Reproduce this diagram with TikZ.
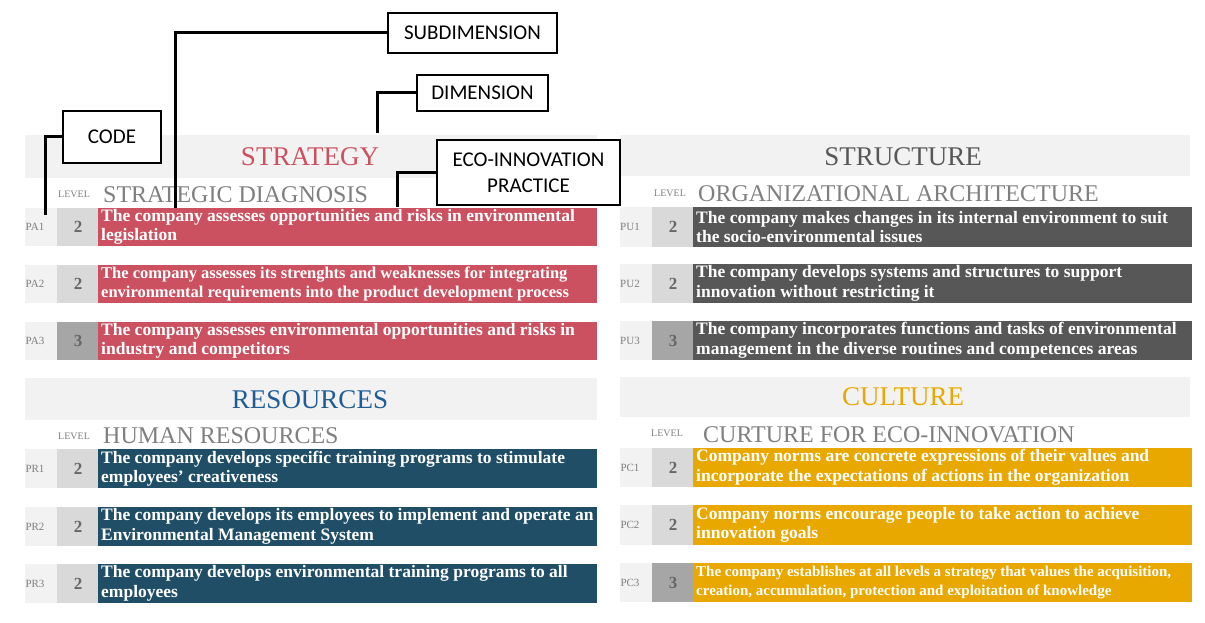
\documentclass[tikz,border=0pt]{standalone}
\usepackage{fontspec}
\setmainfont{Liberation Serif}
\newfontfamily\callf{Carlito}
\definecolor{bandg}{HTML}{F2F2F2}
\definecolor{lvl}{HTML}{D9D9D9}
\definecolor{lvlb}{HTML}{A6A6A6}
\definecolor{cred}{HTML}{CB5160}
\definecolor{cgray}{HTML}{575757}
\definecolor{cblue}{HTML}{1F4E66}
\definecolor{cyel}{HTML}{E9A800}
\definecolor{tblue}{HTML}{1F5C96}
\definecolor{tgray}{HTML}{7F7F7F}
\newcommand\fsa{\fontsize{16.5}{19}\selectfont}
\newcommand\fsb{\fontsize{15}{19}\selectfont}
\begin{document}
\begin{tikzpicture}[x=1pt,y=-1pt,
  band/.style={fill=bandg,draw=none},
  title/.style={font=\fontsize{27}{29}\selectfont},
  sub/.style={font=\fontsize{24}{26}\selectfont,text=tgray,anchor=west,inner sep=0},
  lv/.style={font=\fontsize{10}{11}\selectfont,text=tgray,anchor=west,inner sep=0},
  code/.style={font=\fontsize{11}{12}\selectfont,text=tgray},
  num/.style={font=\bfseries\fontsize{17}{18}\selectfont,text=gray!80!black},
  txt/.style={font=\bfseries\fontsize{17.5}{19.5}\selectfont,text=white,align=left,anchor=west,inner sep=0},
  call/.style={draw=black,line width=2.6pt,fill=white,font=\callf\fontsize{21}{26}\selectfont,align=center,inner sep=0},
  lead/.style={line width=3pt}]
\useasboundingbox (0,0) rectangle (1205,623);
\newcommand\prow[9]{%
  \fill[bandg] (#1,#2) rectangle ++(33,#3);
  \fill[#6] (#1+32,#2) rectangle ++(41,#3);
  \node[code] (#9c) at (#1+10,#2+#3/2) {#4};
  \node[num] (#9l) at (#1+53,#2+#3/2) {#5};
  \fill[#7] (#1+73,#2) rectangle ++(499,#3);
  \node[txt] (#9t) at (#1+76,#2+#3/2) {#8};}
% STRATEGY
\fill[band] (25,135) rectangle (597,178);
\node[title,text=cred] (ts) at (310,157) {STRATEGY};
\node[lv] (lv1) at (58,194) {LEVEL};
\node[sub] (s1) at (103,195) {STRATEGIC DIAGNOSIS};
\prow{25}{208}{38}{PA1}{2}{lvl}{cred}{The company assesses opportunities and risks in environmental\\legislation}{a1}
\prow{25}{265}{38}{PA2}{2}{lvl}{cred}{\fsa The company assesses its strenghts and weaknesses for integrating\\\fsa environmental requirements into the product development process}{a2}
\prow{25}{322}{38}{PA3}{3}{lvlb}{cred}{The company assesses environmental opportunities and risks in\\industry and competitors}{a3}
% STRUCTURE
\fill[band] (620,135) rectangle (1190,176);
\node[title,text=cgray] (tu) at (903,157) {STRUCTURE};
\node[lv] (lv2) at (654,193) {LEVEL};
\node[sub] (s2) at (698,194) {ORGANIZATIONAL ARCHITECTURE};
\prow{620}{207}{40}{PU1}{2}{lvl}{cgray}{The company makes changes in its internal environment to suit\\the socio-environmental issues}{u1}
\prow{620}{264}{39}{PU2}{2}{lvl}{cgray}{The company develops systems and structures to support\\innovation without restricting it}{u2}
\prow{620}{321}{39}{PU3}{3}{lvlb}{cgray}{The company incorporates functions and tasks of environmental\\management in the diverse routines and competences areas}{u3}
% RESOURCES
\fill[band] (25,378) rectangle (597,420);
\node[title,text=tblue] (tr) at (310,400) {RESOURCES};
\node[lv] (lv3) at (58,436) {LEVEL};
\node[sub] (s3) at (103,436) {HUMAN RESOURCES};
\prow{25}{449}{39}{PR1}{2}{lvl}{cblue}{The company develops specific training programs to stimulate\\employees’ creativeness}{r1}
\prow{25}{507}{39}{PR2}{2}{lvl}{cblue}{The company develops its employees to implement and operate an\\Environmental Management System}{r2}
\prow{25}{564}{39}{PR3}{2}{lvl}{cblue}{The company develops environmental training programs to all\\employees}{r3}
% CULTURE
\fill[band] (620,377) rectangle (1190,417);
\node[title,text=cyel] (tc) at (903,397) {CULTURE};
\node[lv] (lv4) at (651,433) {LEVEL};
\node[sub] (s4) at (703,435) {CURTURE FOR ECO-INNOVATION};
\prow{620}{448}{39}{PC1}{2}{lvl}{cyel}{Company norms are concrete expressions of their values and\\incorporate the expectations of actions in the organization}{c1}
\prow{620}{505}{40}{PC2}{2}{lvl}{cyel}{Company norms encourage people to take action to achieve\\innovation goals}{c2}
\prow{620}{563}{39}{PC3}{3}{lvlb}{cyel}{\fsb The company establishes at all levels a strategy that values the acquisition,\\\fsb creation, accumulation, protection and exploitation of knowledge}{c3}
% callouts
\node[call,minimum width=98pt,minimum height=52pt] (kcode) at (112,137) {CODE};
\node[call,minimum width=169pt,minimum height=40pt] (ksub) at (472.5,33) {SUBDIMENSION};
\node[call,minimum width=131pt,minimum height=36pt] (kdim) at (482.5,93) {DIMENSION};
\node[call,minimum width=183pt,minimum height=65pt] (keco) at (528.5,172.5) {ECO-INNOVATION\\PRACTICE};
\coordinate (p1) at (45,215);
\coordinate (p2) at (175,208);
\coordinate (p3) at (377,133);
\coordinate (p4) at (397,207);
\draw[lead] (kcode.west) -| (p1);
\draw[lead] (ksub.west) -| (p2);
\draw[lead] (kdim.west) -| (p3);
\draw[lead] (keco.west) -| (p4);
\end{tikzpicture}
\end{document}
